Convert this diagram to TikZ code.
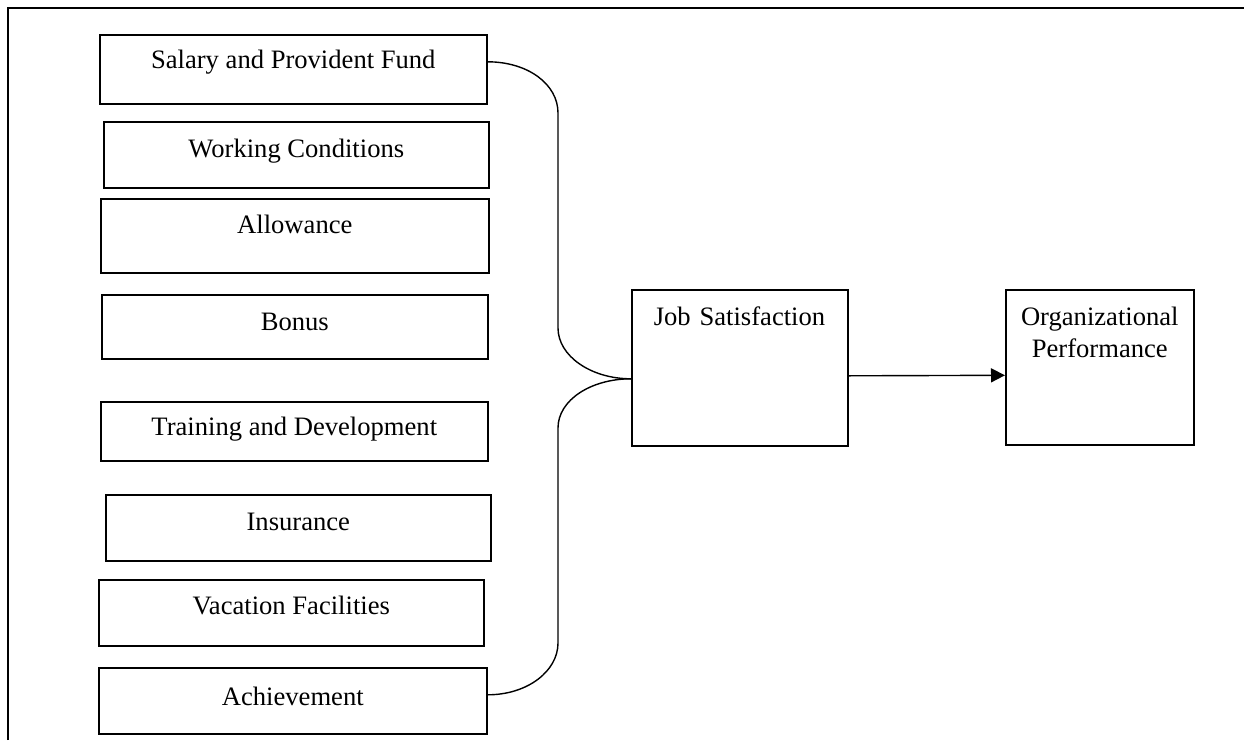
\documentclass[tikz,border=0pt]{standalone}
\usepackage{fontspec}
\setmainfont{Liberation Serif}
\usetikzlibrary{arrows.meta}

\begin{document}
\begin{tikzpicture}[x=0.5pt, y=-0.5pt,
    factor/.style={draw, line width=0.8pt, inner sep=0pt, anchor=north west,
        font=\fontsize{13.3}{16}\selectfont},
    brace/.style={line width=0.7pt},
    flow/.style={line width=0.7pt, -{Triangle[length=7pt, width=7pt]}}]
    % Fix the page size
    \useasboundingbox (0,0) rectangle (1244,740);

    % Draw outer frame
    \draw[line width=1pt] (8,740) -- (8,8) -- (1244,8);

    % Draw the factor boxes
    \node[factor, minimum width=193.5pt, text height=17pt, text depth=17.5pt] (sal) at (99,34) {Salary and Provident Fund};
    \node[factor, minimum width=192.5pt, text height=18pt, text depth=15pt] (work) at (103,121) {Working Conditions};
    \node[factor, minimum width=194pt, text height=17.5pt, text depth=19.5pt] (allow) at (100,198) {Allowance};
    \node[factor, minimum width=193pt, text height=18pt, text depth=14pt] (bonus) at (101,294) {Bonus};
    \node[factor, minimum width=193.5pt, text height=17pt, text depth=12.5pt] (train) at (100,401) {Training and Development};
    \node[factor, minimum width=192.5pt, text height=18pt, text depth=15pt] (insur) at (105,494) {Insurance};
    \node[factor, minimum width=192.5pt, text height=17.5pt, text depth=15.5pt] (vac) at (98,579) {Vacation Facilities};
    \node[factor, minimum width=194pt, text height=19pt, text depth=14pt] (ach) at (98,667) {Achievement};

    % Draw the outcome boxes
    \node[factor, text width=108pt, align=left, text height=18pt, text depth=60pt] (js) at (631,289) {\hspace*{11pt}Job Satisfaction};
    \node[factor, minimum width=94pt, text height=34pt, text depth=43.5pt, align=center] (op) at (1005,289) {Organizational\\Performance};

    % Define the brace corners
    \coordinate (braceA) at (558,113);
    \coordinate (braceB) at (558,328);
    \coordinate (braceC) at (558,428);
    \coordinate (braceD) at (558,643);

    % Draw the brace
    \draw[brace] ([yshift=3.75pt]sal.east) .. controls +(40,0) and +(0,-29) .. (braceA)
        -- (braceB) .. controls +(0,28) and +(-40,0) .. ([yshift=-5.5pt]js.west);
    \draw[brace] ([yshift=3pt]ach.east) .. controls +(40,0) and +(0,28) .. (braceD)
        -- (braceC) .. controls +(0,-28) and +(-40,0) .. ([yshift=-5.5pt]js.west);

    % Draw the arrow
    \draw[flow] ([yshift=-4pt]js.east) -- ([yshift=-4pt]op.west);

\end{tikzpicture}
\end{document}
